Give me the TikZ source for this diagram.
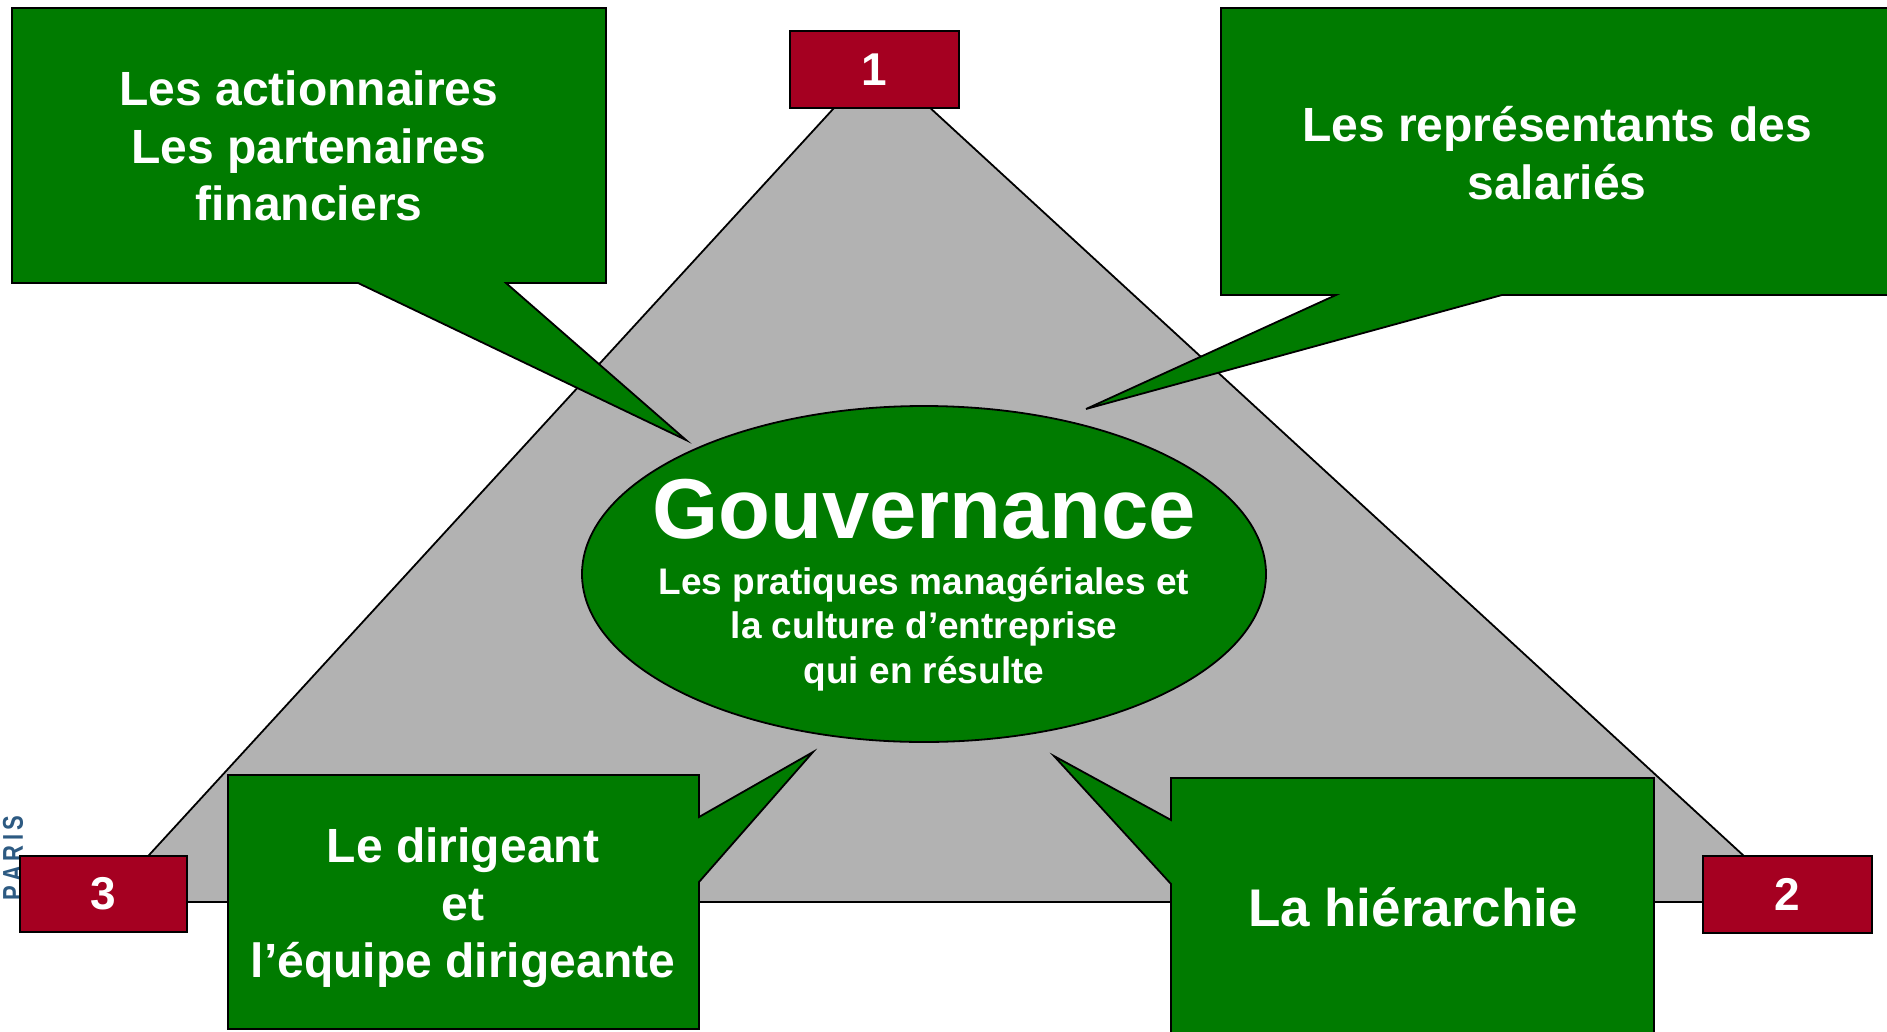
\documentclass[tikz,border=0pt]{standalone}
\usepackage{fontspec}
\setmainfont{Liberation Sans}
\usetikzlibrary{shapes.geometric}
\definecolor{ggreen}{RGB}{0,123,0}
\definecolor{gred}{RGB}{165,0,33}
\definecolor{ggray}{RGB}{178,178,178}
\definecolor{pblue}{RGB}{45,90,130}
\begin{document}
\begin{tikzpicture}[x=1pt,y=-1pt,line join=miter,
  outl/.style={draw=black,line width=1.8pt},
  callout/.style={outl,fill=ggreen},
  numbox/.style={outl,fill=gred,text=white,font=\fontsize{46}{46}\selectfont\bfseries,minimum width=169pt,minimum height=77pt,inner sep=0pt},
  lbl/.style={text=white,align=center,font=\fontsize{48}{57.6}\selectfont\bfseries,inner sep=0pt},
]
\useasboundingbox (0,0) rectangle (1887,1031);
% triangle
\coordinate (apex) at (878,60);
\coordinate (bl) at (106,902);
\coordinate (br) at (1794,902);
\draw[outl,fill=ggray] (apex) -- (br) -- (bl) -- cycle;
% PARIS mark
\node[rotate=90,text=pblue,inner sep=0pt,font=\fontsize{22}{22}\selectfont\bfseries] (paris) at (13,858)
  {\scalebox{1}[1.3]{P\hspace{4.5pt}A\hspace{4.5pt}R\hspace{4.5pt}I\hspace{4.5pt}S}};
% top-left callout
\draw[callout] (12,8) -- (606,8) -- (606,283) -- (506,283) -- (686,440) -- (358,283) -- (12,283) -- cycle;
% top-right callout
\draw[callout] (1221,8) -- (1893,8) -- (1893,295) -- (1502,295) -- (1086,409) -- (1336,295) -- (1221,295) -- cycle;
% central ellipse
\node[ellipse,outl,fill=ggreen,minimum width=684pt,minimum height=336pt,inner sep=0pt] (gov) at (924,574) {};
% bottom-left callout
\draw[callout] (228,775) -- (699,775) -- (699,817) -- (813,752) -- (699,882) -- (699,1029) -- (228,1029) -- cycle;
% bottom-right callout
\draw[callout] (1171,778) -- (1654,778) -- (1654,1045) -- (1171,1045) -- (1171,884) -- (1054,756) -- (1171,820) -- cycle;
% number boxes
\node[numbox] (n1) at (874.5,69.5) {1};
\node[numbox] (n2) at (1787.5,894.5) {2};
\node[numbox,minimum width=167pt,minimum height=76pt] (n3) at (103.5,894) {3};
% texts
\node[lbl] (tl) at (309,146) {Les actionnaires\\Les partenaires\\financiers};
\node[lbl] (tr) at (1557,153) {Les représentants des\\salariés};
\node[lbl,font=\fontsize{85}{85}\selectfont\bfseries] (govt) at (924,509) {Gouvernance};
\node[lbl,font=\fontsize{37}{44.5}\selectfont\bfseries] (govs) at (924,629) {Les pratiques managériales et\\la culture d’entreprise\\qui en résulte};
\node[lbl] (blt) at (463,908) {Le dirigeant\\et\\l’équipe dirigeante};
\node[lbl,font=\fontsize{53}{53}\selectfont\bfseries] (brt) at (1413,907) {La hiérarchie};
\end{tikzpicture}
\end{document}
